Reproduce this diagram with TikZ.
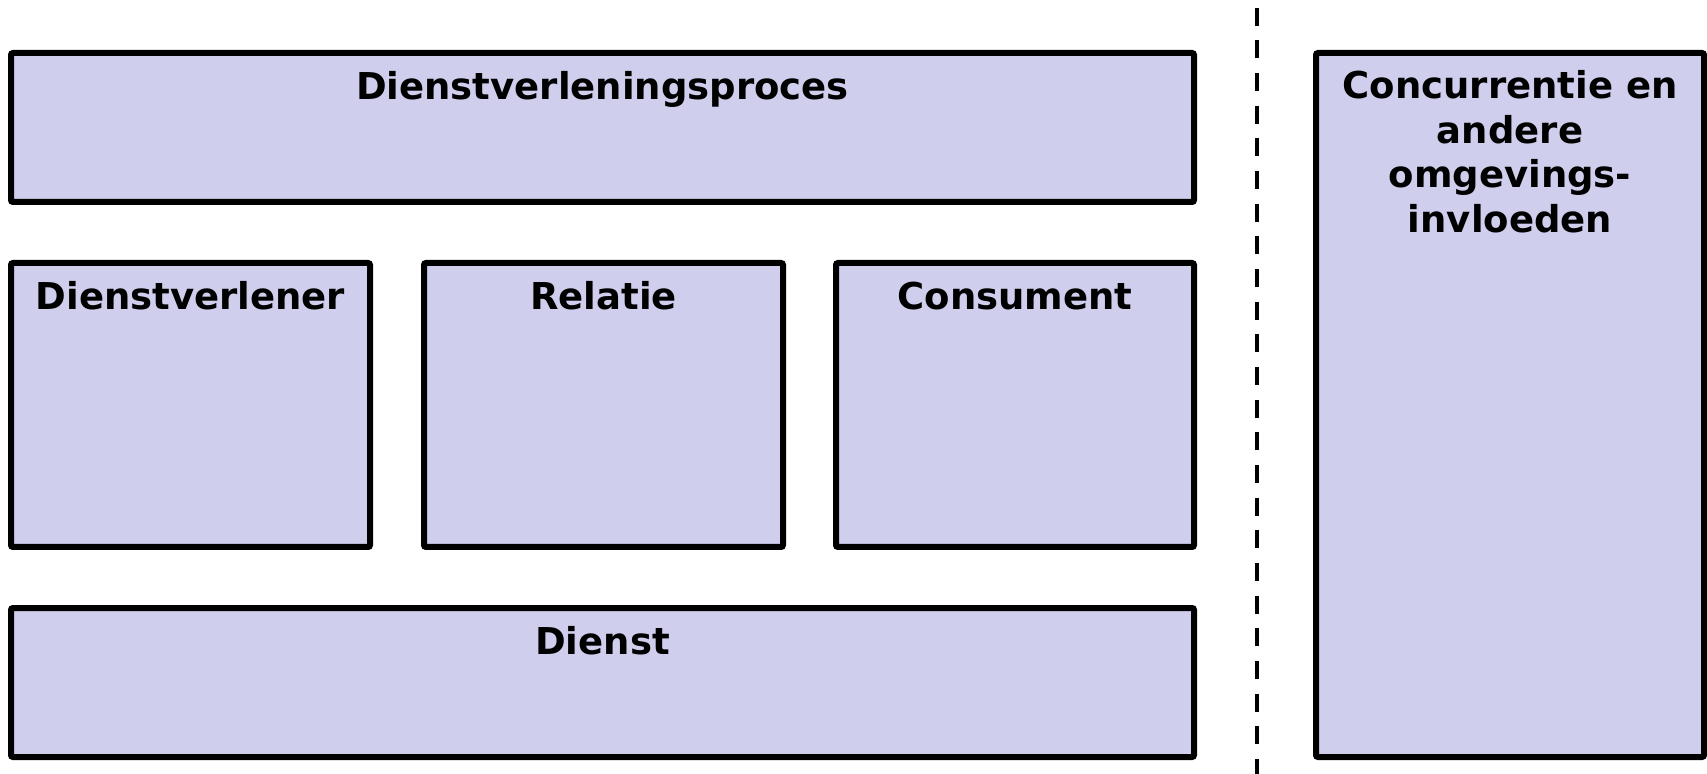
\documentclass[tikz,border=0pt]{standalone}
\usepackage{fontspec}
\setmainfont{DejaVu Sans}
\definecolor{boxfill}{RGB}{207,207,237}
\tikzset{
  panel/.style={draw=black, line width=3pt, fill=boxfill, rounded corners=1pt},
  lbl/.style={font=\fontsize{18.5}{22.25}\selectfont\bfseries, inner sep=0pt, anchor=base, align=center},
  divider/.style={draw=black, line width=2pt, dash pattern=on 9pt off 7.33pt, dash phase=12.5pt}
}
\begin{document}
\begin{tikzpicture}[x=0.5pt,y=-0.5pt]
\useasboundingbox (0,0) rectangle (1707,774);
% boxes
\draw[panel] (11,53) rectangle (1194,202);
\draw[panel] (11,263) rectangle (370,547);
\draw[panel] (424,263) rectangle (783,547);
\draw[panel] (836,263) rectangle (1194,547);
\draw[panel] (11,608) rectangle (1194,757);
\draw[panel] (1316,53) rectangle (1704,757);
% divider
\coordinate (dtop) at (1257,0);
\coordinate (dbot) at (1257,774);
\draw[divider] (dtop) -- (dbot);
% labels
\node[lbl] (proces) at (602.5,100) {Dienstverleningsproces};
\node[lbl] (verlener) at (190.5,310) {Dienstverlener};
\node[lbl] (relatie) at (603.5,310) {Relatie};
\node[lbl] (consument) at (1015,310) {Consument};
\node[lbl] (dienst) at (602.5,654) {Dienst};
\node[lbl, anchor=north] (omgeving) at (1510,70) {Concurrentie en\\andere\\omgevings-\\invloeden};
\end{tikzpicture}
\end{document}
